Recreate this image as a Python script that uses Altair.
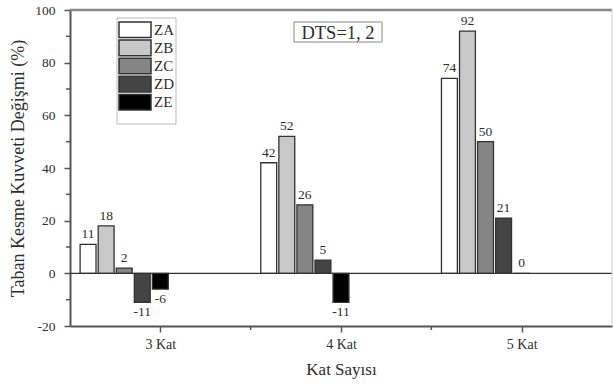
import altair as alt
import pandas as pd

floors = [3, 4, 5]
series = ["ZA", "ZB", "ZC", "ZD", "ZE"]
fills = ["#ffffff", "#c8c8c8", "#858585", "#444444", "#000000"]
offsets = [-0.4, -0.3, -0.2, -0.1, 0.0]
ZA = [11, 42, 74]
ZB = [18, 52, 92]
ZC = [2, 26, 50]
ZD = [-11, 5, 21]
ZE = [-6, -11, 0]
y_ticks = [-20, 0, 20, 40, 60, 80, 100]
y_minor = [-10, 10, 30, 50, 70, 90]
x_minor = [3.5, 4.5]
note = "DTS=1, 2"

W, H = 542, 316
FONT = "Liberation Serif"
TXT = "#2e2e2e"
AX = "#555555"

rows = []
for s, off, vals in zip(series, offsets, [ZA, ZB, ZC, ZD, ZE]):
    for f, v in zip(floors, vals):
        rows.append({"series": s, "floor": f, "pos": f + off, "value": v, "label": str(v)})
df = pd.DataFrame(rows)

xs = alt.Scale(domain=[2.5, 5.5], nice=False, zero=False)
ys = alt.Scale(domain=[-20, 100], nice=False)
fill_scale = alt.Scale(domain=series, range=fills)

x_axis = alt.Axis(values=floors, labelExpr="datum.value + ' Kat'", grid=False,
                  tickSize=6, tickColor=AX, tickWidth=1.5, domainColor=AX, domainWidth=2,
                  labelFontSize=14, labelColor=TXT, labelPadding=5,
                  title="Kat Sayısı", titleFontSize=17, titleFontWeight="normal",
                  titleColor=TXT, titlePadding=10)
y_axis = alt.Axis(values=y_ticks, labelExpr="'' + datum.value", grid=False,
                  tickSize=6, tickColor=AX, tickWidth=1.5, domainColor=AX, domainWidth=2,
                  labelFontSize=13.5, labelColor=TXT, labelPadding=9,
                  title="Taban Kesme Kuvveti Değişmi (%)", titleFontSize=18,
                  titleFontWeight="normal", titleColor=TXT, titlePadding=7)

base = alt.Chart(df)

bars = base.mark_bar(stroke="#333333", strokeWidth=1.3).transform_calculate(
    x_lo="datum.pos - 0.044", x_hi="datum.pos + 0.044"
).encode(
    x=alt.X("x_lo:Q", scale=xs, axis=x_axis),
    x2="x_hi:Q",
    y=alt.Y("value:Q", scale=ys, axis=y_axis),
    y2=alt.datum(0),
    fill=alt.Fill("series:N", scale=fill_scale, legend=None),
)

lab_pos = base.mark_text(dy=-3, baseline="bottom", fontSize=13.5, color=TXT).encode(
    x=alt.X("pos:Q", scale=xs), y=alt.Y("value:Q", scale=ys), text="label:N"
).transform_filter("datum.value >= 0")
lab_neg = base.mark_text(dy=3, baseline="top", fontSize=13.5, color=TXT).encode(
    x=alt.X("pos:Q", scale=xs), y=alt.Y("value:Q", scale=ys), text="label:N"
).transform_filter("datum.value < 0")

one = pd.DataFrame({"a": [0]})
zero_line = alt.Chart(one).mark_rule(color="#333333", strokeWidth=1.3).encode(
    y=alt.Y("a:Q", scale=ys))
top_border = alt.Chart(one).mark_rule(color="#888888", strokeWidth=2.5).encode(
    x=alt.value(0), x2=alt.value(W), y=alt.value(0))
right_border = alt.Chart(one).mark_rule(color="#cccccc", strokeWidth=1).encode(
    x=alt.value(W), y=alt.value(0), y2=alt.value(H))

xm = alt.Chart(pd.DataFrame({"m": x_minor})).mark_rule(color=AX, strokeWidth=1.5).encode(
    x=alt.X("m:Q", scale=xs), y=alt.value(H), y2=alt.value(H + 4))
ym = alt.Chart(pd.DataFrame({"m": y_minor})).mark_rule(color=AX, strokeWidth=1.5).encode(
    y=alt.Y("m:Q", scale=ys), x=alt.value(-4), x2=alt.value(0))

note_box = alt.Chart(one).mark_rect(fill="white", stroke="#888888", strokeWidth=1).encode(
    x=alt.value(224), x2=alt.value(312), y=alt.value(12), y2=alt.value(32))
note_txt = alt.Chart(one).mark_text(fontSize=18.5, color=TXT, baseline="middle", align="center",
                                    text=note).encode(x=alt.value(268), y=alt.value(22.5))

main = alt.layer(bars, zero_line, lab_pos, lab_neg, xm, ym, top_border, right_border,
                 note_box, note_txt)

leg_df = pd.DataFrame({"series": series})
leg_box = alt.Chart(one).mark_rect(fill="white", stroke="#bbbbbb", strokeWidth=1).encode(
    x=alt.value(47), x2=alt.value(106), y=alt.value(8), y2=alt.value(114))
leg_y = alt.Scale(domain=series, range=[12, 100], paddingInner=0.14, paddingOuter=0)
leg_sw = alt.Chart(leg_df).mark_rect(stroke="#333333", strokeWidth=1.5).encode(
    x=alt.value(49), x2=alt.value(81),
    y=alt.Y("series:N", scale=leg_y, axis=None),
    fill=alt.Fill("series:N", scale=fill_scale, legend=None))
leg_tx = alt.Chart(leg_df).mark_text(align="left", baseline="middle", fontSize=15, color=TXT).encode(
    x=alt.value(84),
    y=alt.Y("series:N", scale=leg_y, axis=None),
    text="series:N")
legend = alt.layer(leg_box, leg_sw, leg_tx)

chart = alt.layer(main, legend).resolve_scale(y="independent").properties(
    width=W, height=H,
    autosize=alt.AutoSizeParams(type="none"),
    padding={"left": 70, "top": 10, "right": 1, "bottom": 61},
).configure(font=FONT).configure_view(stroke=None)

chart.save("out.html", embed_options={"renderer": "svg", "actions": False})
